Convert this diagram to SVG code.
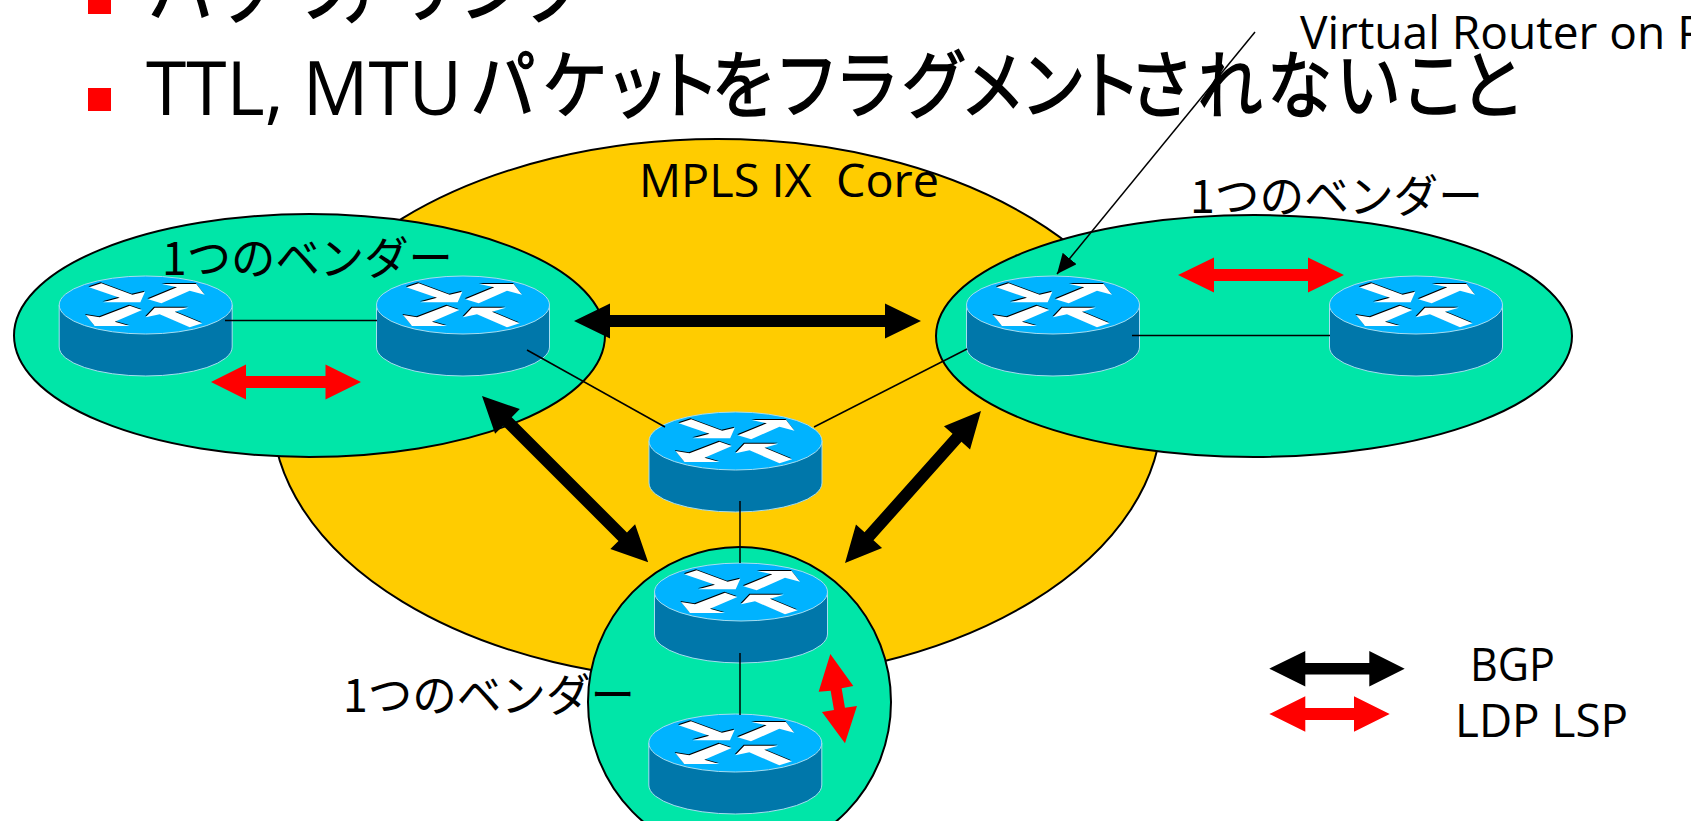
<svg xmlns="http://www.w3.org/2000/svg" width="1691" height="821" viewBox="0 0 1691 821">
<style>
.region{stroke:#000;stroke-width:2}
.green{fill:#00E6A8}
.link{stroke:#000;stroke-width:1.5;fill:none}
.blk{fill:#000}
.red{fill:#F00}
.jp{font-family:"Noto Sans CJK JP",sans-serif;fill:#000}
.lat{font-family:"Open Sans","Noto Sans",sans-serif;fill:#000}
.title{font-size:74px;font-weight:400;text-anchor:middle;stroke:#000;stroke-width:1.6px}
.vendor{font-size:45px;font-weight:400}
.label{font-size:46px}
</style>
<defs>
<g id="router">
<path d="M-86.5,0V42A86.5,29 0 0 0 86.5,42V0Z" fill="#0077AA" stroke="#A6DDF0" stroke-width="1"/>
<ellipse rx="86.5" ry="29" fill="#00B3FF" stroke="#A6DDF0" stroke-width="1"/>
<g transform="scale(.3333) translate(-318,-135)">
<g fill="#000" transform="translate(-2,-3)">
<polygon points="148,82 185,70 278,104 316,95 302,127 190,127 240,113"/>
<polygon points="325,118 412,82 367,72 470,72 495,104 450,92 365,130"/>
<polygon points="138,165 180,172 270,137 307,150 225,185 270,198 165,198"/>
<polygon points="318,172 345,143 447,143 405,155 488,190 450,202 360,163"/>
</g>
<g fill="#FFF">
<polygon points="148,82 185,70 278,104 316,95 302,127 190,127 240,113"/>
<polygon points="325,118 412,82 367,72 470,72 495,104 450,92 365,130"/>
<polygon points="138,165 180,172 270,137 307,150 225,185 270,198 165,198"/>
<polygon points="318,172 345,143 447,143 405,155 488,190 450,202 360,163"/>
</g>
</g>
</g>
<marker id="tip" markerUnits="userSpaceOnUse" markerWidth="21" markerHeight="18" refX="20" refY="9" orient="auto">
<polygon points="0,0 20,9 0,18" fill="#000"/>
</marker>
</defs>

<g id="core"><ellipse class="region" cx="717" cy="410" rx="445" ry="271" fill="#FFCC00"/></g>
<g id="vendor-left"><ellipse class="region green" cx="309.5" cy="335.5" rx="295.5" ry="121.5"/></g>
<g id="vendor-right-label"><text class="jp vendor" x="1190" y="213" textLength="293" lengthAdjust="spacingAndGlyphs">1つのベンダー</text></g>
<g id="vendor-right"><ellipse class="region green" cx="1254" cy="336" rx="318" ry="121"/></g>
<g id="vendor-bottom"><ellipse class="region green" cx="739.5" cy="702" rx="151.5" ry="155"/></g>

<g id="router-1"><use href="#router" x="145.7" y="305"/></g>
<g id="router-2"><use href="#router" x="463" y="305"/></g>
<g id="router-3"><use href="#router" x="1053" y="305"/></g>
<g id="router-4"><use href="#router" x="1416" y="305"/></g>
<g id="router-core"><use href="#router" x="735.5" y="441"/></g>
<g id="router-5"><use href="#router" x="741" y="592"/></g>
<g id="router-6"><use href="#router" x="735.3" y="743"/></g>

<g id="connectors">
<line class="link" x1="225" y1="320.5" x2="377" y2="320.5"/>
<line class="link" x1="527" y1="350" x2="665" y2="427"/>
<line class="link" x1="814" y1="427" x2="967" y2="349"/>
<line class="link" x1="1132" y1="335.5" x2="1330" y2="335.5"/>
<line class="link" x1="740" y1="501" x2="740" y2="563"/>
<line class="link" x1="740" y1="653" x2="740" y2="715"/>
<line class="link" x1="1255" y1="32" x2="1057" y2="274" marker-end="url(#tip)"/>
<polygon class="blk" transform="translate(574,321)" points="0,0 36,-17.5 36,-6 311,-6 311,-17.5 347,0 311,17.5 311,6 36,6 36,17.5"/>
<polygon class="blk" transform="translate(482,396) rotate(45)" points="0,0 36,-17.5 36,-6 199,-6 199,-17.5 235,0 199,17.5 199,6 36,6 36,17.5"/>
<polygon class="blk" transform="translate(981,411) rotate(131.8)" points="0,0 36,-17.5 36,-6 168,-6 168,-17.5 204,0 168,17.5 168,6 36,6 36,17.5"/>
<polygon class="red" points="211,382 246,364.5 246,376 325.5,376 325.5,364.5 361,382 325.5,399.5 325.5,388 246,388 246,399.5"/>
<polygon class="red" points="1178,275 1214,257.5 1214,269 1308,269 1308,257.5 1344,275 1308,292.5 1308,281 1214,281 1214,292.5"/>
<polygon class="red" transform="translate(580,540) scale(.3333)" points="751,342 820,438 785,445 795,503 831,498 795,610 726,516 762,510 752,452 716,455"/>
<polygon class="blk" points="1269.3,668.7 1305.3,651 1305.3,663 1369.3,663 1369.3,651 1404.7,668.7 1369.3,686.4 1369.3,674.4 1305.3,674.4 1305.3,686.4"/>
<polygon class="red" points="1269.3,714 1305.3,696.3 1305.3,708 1354,708 1354,696.3 1389.7,714 1354,731.7 1354,720 1305.3,720 1305.3,731.7"/>
</g>

<g id="header">
<rect x="88" y="0" width="23" height="14" fill="#F00"/>
<rect x="88" y="88" width="23" height="23" fill="#F00"/>
<text class="jp title" transform="scale(.88,1)" x="205.7 278.4 370.5 414.8 483 559.1 631.8" y="16">バッファリング</text>
<text class="lat" x="146" y="115" font-size="75" textLength="316" lengthAdjust="spacingAndGlyphs">TTL, MTU</text>
<text class="jp title" transform="scale(.88,1)" x="571.6 653.4 723.9 781 845.5 916.5 985.2 1061.4 1128.4 1196.6 1260 1319.9 1397.7 1476.7 1555.1 1628.4 1696" y="112">パケットをフラグメントされないこと</text>
</g>
<text class="lat label" x="639" y="197" textLength="300" lengthAdjust="spacingAndGlyphs" xml:space="preserve">MPLS IX  Core</text>
<text class="lat label" x="1300" y="49" textLength="405" lengthAdjust="spacingAndGlyphs">Virtual Router on P</text>
<text class="jp vendor" x="162" y="275" textLength="291" lengthAdjust="spacingAndGlyphs">1つのベンダー</text>
<text class="jp vendor" x="343" y="712" textLength="292" lengthAdjust="spacingAndGlyphs">1つのベンダー</text>
<text class="lat label" x="1470" y="681" textLength="85" lengthAdjust="spacingAndGlyphs">BGP</text>
<text class="lat label" x="1455" y="737" textLength="173" lengthAdjust="spacingAndGlyphs">LDP LSP</text>
</svg>
